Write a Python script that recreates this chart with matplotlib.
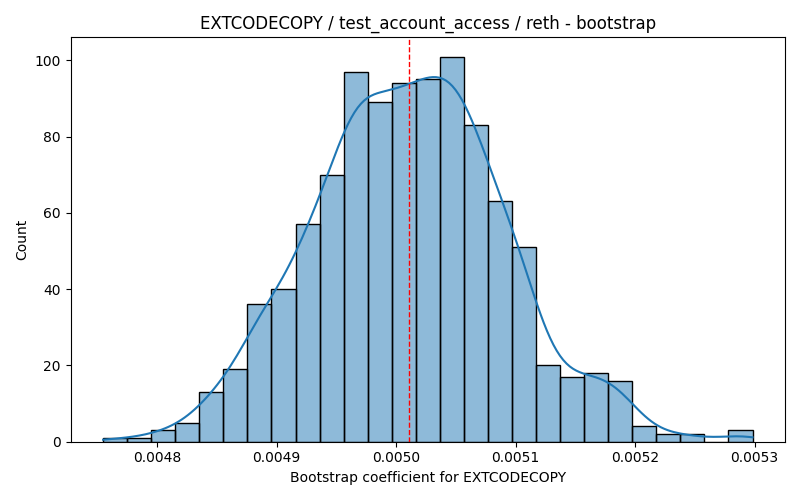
import numpy as np
import matplotlib
matplotlib.use("Agg")
import matplotlib.pyplot as plt

# Histogram data (bootstrap coefficient for EXTCODECOPY)
bin_start = 0.0047548
bin_end = 0.0052983
counts = [1, 1, 3, 5, 13, 19, 36, 40, 57, 70, 97, 89, 94, 95, 101, 83,
          63, 51, 20, 17, 18, 16, 4, 2, 2, 0, 3]
point_estimate = 0.005011

title = "EXTCODECOPY / test_account_access / reth - bootstrap"
xlabel = "Bootstrap coefficient for EXTCODECOPY"
ylabel = "Count"

counts = np.array(counts)
nb = len(counts)
edges = np.linspace(bin_start, bin_end, nb + 1)
width = edges[1] - edges[0]
centers = (edges[:-1] + edges[1:]) / 2

fig, ax = plt.subplots(figsize=(8, 5), dpi=100)
ax.bar(edges[:-1], counts, width=width, align="edge",
       color="#1f77b4", alpha=0.5, edgecolor="none")
ax.bar(edges[:-1], counts, width=width, align="edge",
       facecolor="none", edgecolor="black", linewidth=1.0)

# KDE (Scott bandwidth) scaled to counts
samples = np.repeat(centers, counts)
n = samples.size
sd = samples.std(ddof=1)
bw = 0.9 * sd * n ** (-1 / 5)
grid = np.linspace(bin_start, bin_end, 200)
dens = np.exp(-0.5 * ((grid[:, None] - samples[None, :]) / bw) ** 2).sum(axis=1)
dens /= (n * bw * np.sqrt(2 * np.pi))
ax.plot(grid, dens * n * width, color="#1f77b4", linewidth=1.5)

ax.axvline(point_estimate, color="red", linestyle="--", linewidth=1.0)

ax.set_title(title)
ax.set_xlabel(xlabel)
ax.set_ylabel(ylabel)
ax.set_xticks([0.0048, 0.0049, 0.0050, 0.0051, 0.0052, 0.0053])
ax.set_xticklabels(["0.0048", "0.0049", "0.0050", "0.0051", "0.0052", "0.0053"])
ax.set_xlim(bin_start - 0.05 * (bin_end - bin_start), bin_end + 0.05 * (bin_end - bin_start))
ax.set_ylim(0, counts.max() * 1.05)
fig.tight_layout()
fig.savefig("out.png")
